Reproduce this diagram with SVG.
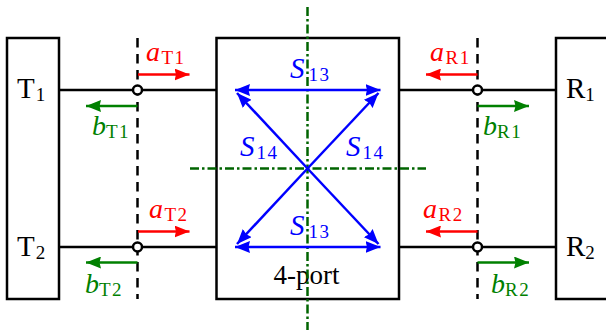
<svg xmlns="http://www.w3.org/2000/svg" width="606" height="334" viewBox="0 0 606 334">
<style>
text{font-family:"Liberation Serif","Times New Roman",serif;font-size:28px}
.cap{font-size:29px}
.port{font-size:27px}
.sub{font-size:19px;font-style:normal;letter-spacing:1.5px}
.i{font-style:italic}
.k{fill:#000}.r{fill:#f00}.g{fill:#008000}.b{fill:#00f}
.box{fill:#fff;stroke:#000;stroke-width:2.5}
.w{stroke:#000;stroke-width:2.5;fill:none}
.d{stroke:#000;stroke-width:2.5;fill:none;stroke-dasharray:9.500 6.500}
.ar{stroke:#f00;stroke-width:2.500;fill:none}
.ag{stroke:#008000;stroke-width:2.500;fill:none}
.ab{stroke:#00f;stroke-width:2.500;fill:none}
.cl{stroke:#006400;stroke-width:2.500;fill:none;stroke-dasharray:9 3 2.500 3}
.p{fill:#fff;stroke:#000;stroke-width:2.500}
</style>
<defs>
<marker id="mr" markerUnits="userSpaceOnUse" markerWidth="16" markerHeight="12" refX="15" refY="6" orient="auto"><path d="M0 0L15 6L0 12L1.500 6Z" fill="#f00"/></marker>
<marker id="mg" markerUnits="userSpaceOnUse" markerWidth="16" markerHeight="12" refX="15" refY="6" orient="auto"><path d="M0 0L15 6L0 12L1.500 6Z" fill="#008000"/></marker>
<marker id="mb" markerUnits="userSpaceOnUse" markerWidth="16" markerHeight="12" refX="15" refY="6" orient="auto"><path d="M0 0L15 6L0 12L1.500 6Z" fill="#00f"/></marker>
<marker id="mbs" markerUnits="userSpaceOnUse" markerWidth="16" markerHeight="12" refX="0" refY="6" orient="auto"><path d="M15 0L0 6L15 12L13.500 6Z" fill="#00f"/></marker>
</defs>
<g id="node-T"><rect class="box" x="7" y="38" width="52" height="261"/>
<text class="k cap" x="17" y="98">T<tspan class="sub" dy="3" dx="1">1</tspan></text>
<text class="k cap" x="17" y="255.500">T<tspan class="sub" dy="3" dx="1">2</tspan></text></g>
<g id="node-4port"><rect class="box" x="216.500" y="38" width="182.500" height="261"/>
<text class="k port" x="273.500" y="284">4-port</text></g>
<g id="node-R"><path class="box" d="M608 38H556V299H608"/>
<text class="k cap" x="566" y="98">R<tspan class="sub" dy="3">1</tspan></text>
<text class="k cap" x="566" y="255.500">R<tspan class="sub" dy="3">2</tspan></text></g>
<g id="connectors">
<path class="w" d="M59 90H216.500M59 247H216.500M399 90H556M399 247H556"/>
<path class="d" d="M137.500 38V299M477.500 38V299"/>
<path class="cl" d="M307.500 7V330M190 168.500H426"/>
<path class="ar" marker-end="url(#mr)" d="M138 74.500H189.500"/>
<path class="ar" marker-end="url(#mr)" d="M138 231.500H189.500"/>
<path class="ar" marker-end="url(#mr)" d="M477.500 74.500H426"/>
<path class="ar" marker-end="url(#mr)" d="M477.500 231.500H426"/>
<path class="ag" marker-end="url(#mg)" d="M137.500 106H86"/>
<path class="ag" marker-end="url(#mg)" d="M137.500 262.500H86"/>
<path class="ag" marker-end="url(#mg)" d="M477.500 106H529"/>
<path class="ag" marker-end="url(#mg)" d="M477.500 262.500H529"/>
<path class="ab" marker-end="url(#mb)" d="M307.500 168.500L237 93"/>
<path class="ab" marker-end="url(#mb)" d="M307.500 168.500L378.500 93"/>
<path class="ab" marker-end="url(#mb)" d="M307.500 168.500L237 244"/>
<path class="ab" marker-end="url(#mb)" d="M307.500 168.500L378.500 244"/>
<path class="ab" marker-start="url(#mbs)" marker-end="url(#mb)" d="M235 90H380.500"/>
<path class="ab" marker-start="url(#mbs)" marker-end="url(#mb)" d="M235 247H380.500"/>
<circle class="p" cx="137.500" cy="90" r="4.500"/><circle class="p" cx="137.500" cy="247" r="4.500"/>
<circle class="p" cx="477.500" cy="90" r="4.500"/><circle class="p" cx="477.500" cy="247" r="4.500"/>
</g>
<g id="labels">
<text class="r" x="146" y="61"><tspan class="i">a</tspan><tspan class="sub" dy="3" dx="1.500">T1</tspan></text>
<text class="r" x="149" y="218"><tspan class="i">a</tspan><tspan class="sub" dy="3" dx="1.500">T2</tspan></text>
<text class="r" x="430" y="61"><tspan class="i">a</tspan><tspan class="sub" dy="3" dx="1.500">R1</tspan></text>
<text class="r" x="423" y="218"><tspan class="i">a</tspan><tspan class="sub" dy="3" dx="1.500">R2</tspan></text>
<text class="g" x="92" y="135"><tspan class="i">b</tspan><tspan class="sub" dy="3">T1</tspan></text>
<text class="g" x="85" y="292.500"><tspan class="i">b</tspan><tspan class="sub" dy="3">T2</tspan></text>
<text class="g" x="483" y="135"><tspan class="i">b</tspan><tspan class="sub" dy="3">R1</tspan></text>
<text class="g" x="491" y="292.500"><tspan class="i">b</tspan><tspan class="sub" dy="3">R2</tspan></text>
<text class="b cap" x="290" y="78"><tspan class="i">S</tspan><tspan class="sub" dy="3" dx="4">13</tspan></text>
<text class="b cap" x="290" y="235"><tspan class="i">S</tspan><tspan class="sub" dy="3" dx="4">13</tspan></text>
<text class="b cap" x="240" y="155.500"><tspan class="i">S</tspan><tspan class="sub" dy="3" dx="2">14</tspan></text>
<text class="b cap" x="346" y="155.500"><tspan class="i">S</tspan><tspan class="sub" dy="3" dx="2">14</tspan></text>
</g>
</svg>
